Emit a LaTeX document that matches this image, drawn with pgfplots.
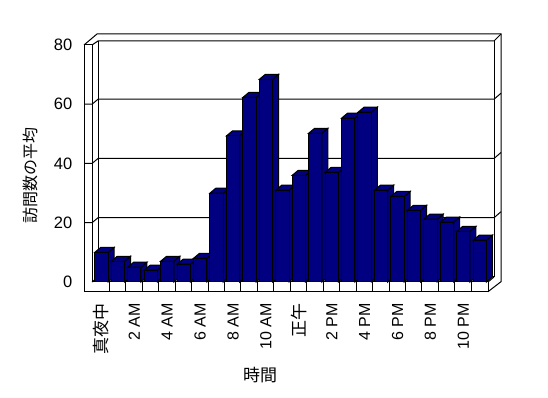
\documentclass[border=0pt]{standalone}
\usepackage{pgfplots}
\usepackage{pgfplotstable}
\pgfplotsset{compat=1.18}
\usepackage{fontspec}
\setmainfont{Liberation Sans}
\newfontfamily\cjk{Noto Sans CJK JP}
\definecolor{barnavy}{RGB}{0,0,128}
\pgfdeclareplotmark{empty}{}
\pgfplotstableread{
x v
0 10
1 7
2 5
3 4
4 7
5 6
6 8
7 30
8 49.3
9 62.3
10 68.4
11 31
12 36
13 50.2
14 37
15 55.3
16 57.3
17 31
18 28.9
19 24.2
20 21.2
21 20.2
22 17.1
23 14.1
}\visits
\begin{document}
\begin{tikzpicture}
\useasboundingbox (0,0) rectangle (548bp,398bp);
\begin{scope}[shift={(0bp,398bp)}, x=1bp, y=-1bp, line width=1bp, black]
  \draw (84,45) -- (92,45) -- (92,282);
  \draw (84,45) -- (84,291.7) -- (488,291.7) -- (488,282) -- (92,282);
  \draw (84,45) -- (97,34) -- (501,34) -- (501,281.7) -- (488,291.7);
  \draw (92,45) -- (98,41) -- (494,41) -- (501,34);
  \draw (98,41) -- (98,277) -- (494,277) -- (494,41);
  \draw (92,282) -- (98,277);
  \draw (488,282) -- (494,277);
  \foreach \yb in {99.25,158.5,217.75} {
    \draw (84,{\yb+5}) -- (92,{\yb+5}) -- (98,\yb) -- (494,\yb) -- (501,{\yb-6});
  }
  \foreach \k in {1,...,23} {
    \draw ({92.9+16.45*\k},282) -- ({92.9+16.45*\k},291.7);
  }
\end{scope}
\begin{axis}[
  at={(93.2bp,116bp)}, anchor=south west,
  x=16.45bp, y=2.9625bp,
  xmin=-0.5, xmax=23.5, ymin=0, ymax=80,
  enlargelimits=false, clip=false,
  axis line style={draw=none}, major tick length=0pt,
  xtick={0,2,...,22},
  xticklabels={{\cjk\fontsize{17bp}{17bp}\selectfont 真夜中},2 AM,4 AM,6 AM,8 AM,10 AM,{\cjk\fontsize{17bp}{17bp}\selectfont 正午},2 PM,4 PM,6 PM,8 PM,10 PM},
  ytick={0,20,...,80},
  xticklabel style={rotate=90, anchor=east, inner sep=0pt, font=\fontsize{16bp}{18bp}\selectfont},
  xticklabel shift=21bp,
  yticklabel style={anchor=east, inner sep=0pt, font=\fontsize{16.5bp}{18bp}\selectfont},
  yticklabel shift=20.7bp,
  /pgf/number format/assume math mode=true,
]
\addplot[scatter, only marks, mark=empty,
  visualization depends on={rawy \as \vv},
  scatter/@pre marker code/.code={
    \pgfmathsetlengthmacro\hh{\vv*2.9625bp}
    \filldraw[fill=barnavy, draw=black, line width=1bp, line join=miter]
      (6.65bp,0pt) -- (12.65bp,5bp) -- (12.65bp,{5bp-\hh}) -- (6.65bp,-\hh) -- cycle;
    \filldraw[fill=barnavy, draw=black, line width=1bp, line join=miter]
      (-6.65bp,0pt) -- (6.65bp,0pt) -- (12.65bp,5bp) -- (-0.65bp,5bp) -- cycle;
    \filldraw[fill=barnavy, draw=black, line width=1bp]
      (-6.65bp,-\hh) rectangle (6.65bp,0pt);
  },
  scatter/@post marker code/.code={},
] table[x=x,y=v] {\visits};
\end{axis}
\node[rotate=90, font=\cjk\fontsize{16bp}{16bp}\selectfont] at (30bp,222bp) {訪問数の平均};
\node[font=\cjk\fontsize{17bp}{17bp}\selectfont] at (260bp,23bp) {時間};
\end{tikzpicture}
\end{document}
